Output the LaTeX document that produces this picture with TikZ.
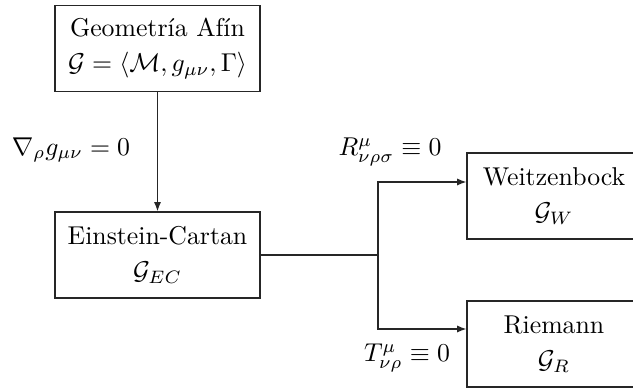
\documentclass[tikz,border=0pt]{standalone}
\usetikzlibrary{arrows.meta}
\begin{document}
\begin{tikzpicture}[x=0.388pt,y=-0.388pt,
  box/.style={draw=black!85, line width=0.5pt, rectangle, align=center, inner sep=0pt, minimum height=33.4pt},
  conn/.style={draw=black!85, line width=0.5pt},
  arr/.style={conn, -{Latex[length=3.6pt,width=2.8pt]}}]
\clip (0,0) rectangle (633,390);
\node[box, minimum width=79.5pt] (geo) at (157.5,48.5) {Geometr\'{\i}a Af\'{\i}n\\[1.5pt] $\mathcal{G}=\langle\mathcal{M},g_{\mu\nu},\Gamma\rangle$};
\node[box, minimum width=79.5pt] (ec) at (157.5,255) {Einstein-Cartan\\[1.5pt] $\mathcal{G}_{EC}$};
\node[box, minimum width=67.5pt] (w) at (554,196) {Weitzenbock\\[1.5pt] $\mathcal{G}_{W}$};
\node[box, minimum width=67.5pt] (r) at (554,344) {Riemann\\[1.5pt] $\mathcal{G}_{R}$};
\node (nab) at (71,150) {$\nabla_\rho g_{\mu\nu}=0$};
\node (rl) at (390,152) {$R^{\mu}_{\nu\rho\sigma}\equiv 0$};
\node (tl) at (407,358) {$T^{\mu}_{\nu\rho}\equiv 0$};
\coordinate (j) at (378,255);
\coordinate (jt) at (378,182);
\coordinate (jb) at (378,329);
\draw[arr] (geo) -- (ec);
\draw[conn] (ec.east) -- (j);
\draw[arr] (j) -- (jt) -- (jt -| w.west);
\draw[arr] (j) -- (jb) -- (jb -| r.west);
\end{tikzpicture}
\end{document}
